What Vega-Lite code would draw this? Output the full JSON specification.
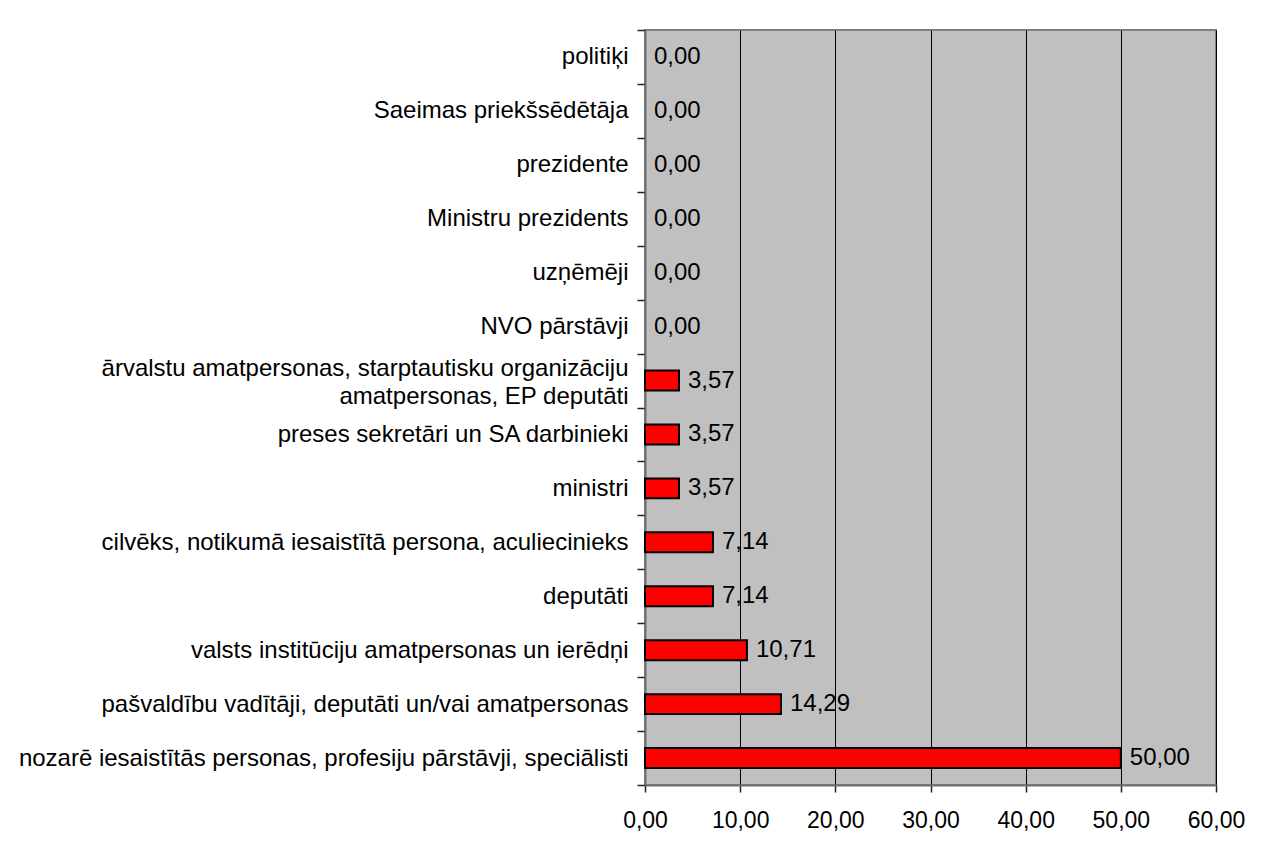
{
  "$schema": "https://vega.github.io/schema/vega-lite/v6.json",
  "width": 571,
  "height": 755,
  "autosize": {"type": "none"},
  "padding": {"left": 645, "top": 30, "right": 47, "bottom": 66},
  "background": "white",
  "config": {
    "locale": {"number": {"decimal": ",", "thousands": " ", "grouping": [3], "currency": ["", ""]}},
    "font": "Liberation Sans",
    "view": {"fill": "#C0C0C0", "stroke": "#808080", "strokeWidth": 2},
    "axis": {
      "labelFont": "Liberation Sans",
      "labelFontSize": 24,
      "labelColor": "black",
      "domainColor": "#6E6E6E",
      "domainWidth": 2,
      "tickColor": "#202020",
      "tickWidth": 1.5,
      "tickSize": 8
    }
  },
  "data": {
    "values": [
      {"kategorija": "politiķi", "vertiba": 0.00},
      {"kategorija": "Saeimas priekšsēdētāja", "vertiba": 0.00},
      {"kategorija": "prezidente", "vertiba": 0.00},
      {"kategorija": "Ministru prezidents", "vertiba": 0.00},
      {"kategorija": "uzņēmēji", "vertiba": 0.00},
      {"kategorija": "NVO pārstāvji", "vertiba": 0.00},
      {"kategorija": "ārvalstu amatpersonas, starptautisku organizāciju|amatpersonas, EP deputāti", "vertiba": 3.57},
      {"kategorija": "preses sekretāri un SA darbinieki", "vertiba": 3.57},
      {"kategorija": "ministri", "vertiba": 3.57},
      {"kategorija": "cilvēks, notikumā iesaistītā persona, aculiecinieks", "vertiba": 7.14},
      {"kategorija": "deputāti", "vertiba": 7.14},
      {"kategorija": "valsts institūciju amatpersonas un ierēdņi", "vertiba": 10.71},
      {"kategorija": "pašvaldību vadītāji, deputāti un/vai amatpersonas", "vertiba": 14.29},
      {"kategorija": "nozarē iesaistītās personas, profesiju pārstāvji, speciālisti", "vertiba": 50.00}
    ]
  },
  "encoding": {
    "y": {
      "field": "kategorija",
      "type": "nominal",
      "sort": null,
      "scale": {"paddingInner": 0, "paddingOuter": 0},
      "axis": {
        "title": null,
        "labelExpr": "split(datum.label, '|')",
        "labelLimit": 1000,
        "labelPadding": 9,
        "labelLineHeight": 28,
        "labelBaseline": {"condition": {"test": "length(split(datum.value, '|')) > 1", "value": "bottom"}, "value": "middle"},
        "tickBand": "extent",
        "grid": false
      }
    },
    "x": {
      "field": "vertiba",
      "type": "quantitative",
      "scale": {"domain": [0, 60], "nice": false},
      "axis": {
        "title": null,
        "values": [0, 10, 20, 30, 40, 50, 60],
        "format": ".2f",
        "grid": true,
        "gridColor": "black",
        "gridWidth": 1,
        "labelFlush": false,
        "labelFontSize": 23,
        "labelPadding": 17,
        "tickSize": 7
      }
    }
  },
  "layer": [
    {
      "mark": {"type": "bar", "height": {"band": 0.37}, "fill": "#FF0000", "stroke": "black", "strokeWidth": 2},
      "encoding": {
        "strokeOpacity": {"condition": {"test": "datum.vertiba == 0", "value": 0}, "value": 1}
      }
    },
    {
      "mark": {"type": "text", "align": "left", "baseline": "middle", "dx": 9, "fontSize": 24, "font": "Liberation Sans", "color": "black"},
      "encoding": {
        "text": {"field": "vertiba", "type": "quantitative", "format": ".2f"}
      }
    }
  ]
}
